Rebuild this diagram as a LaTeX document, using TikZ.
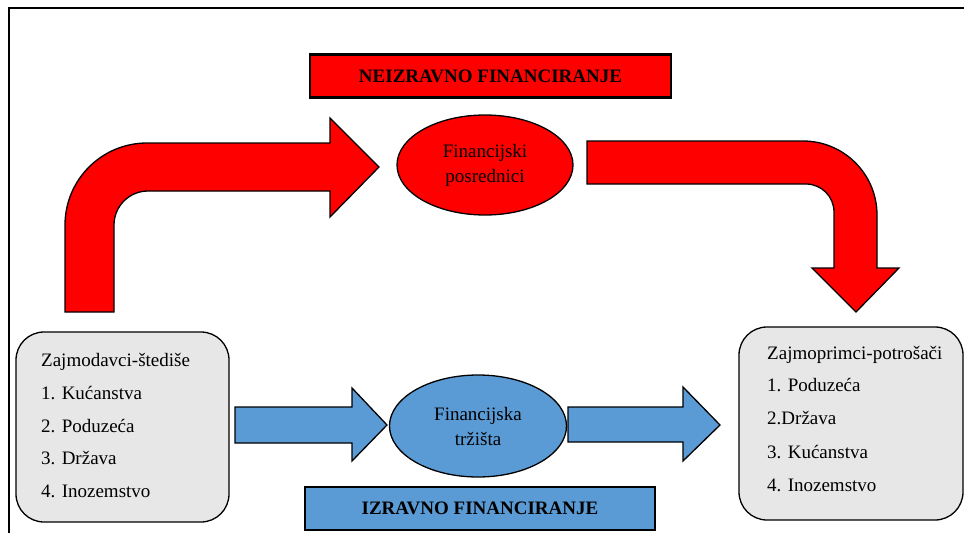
\documentclass[tikz,border=0pt]{standalone}
\usepackage{fontspec}
\setmainfont{Liberation Serif}
\newfontfamily\tnr{Liberation Serif}
\usetikzlibrary{shapes.geometric}
\definecolor{rd}{HTML}{FF0000}
\definecolor{bl}{HTML}{5B9BD5}
\definecolor{gr}{HTML}{E7E7E7}
\tikzset{
  bigarrowR/.style={draw=black, line width=1.3pt, fill=rd, line join=miter},
  bigarrowB/.style={draw=black, line width=1.3pt, fill=bl, line join=miter},
  titlebox/.style={draw=black, line width=2.4pt, minimum height=43pt, inner sep=0pt, font=\tnr\fontsize{19}{19}\selectfont\bfseries},
  ellnode/.style={ellipse, draw=black, line width=1.3pt, inner sep=0pt, align=center, font=\tnr\fontsize{19}{25}\selectfont},
  grbox/.style={draw=black, line width=1.3pt, fill=gr, rounded corners=28pt},
  itemtxt/.style={anchor=base west, inner sep=0pt, font=\tnr\fontsize{19}{19}\selectfont},
}
\begin{document}
\begin{tikzpicture}[x=1pt,y=-1pt]
\useasboundingbox (0,0) rectangle (964,533);
% frame
\draw[line width=2pt] (9,533) -- (9,8) -- (964,8);

% title boxes
\node[titlebox, fill=rd, minimum width=361pt] (neizr) at (490.5,76) {NEIZRAVNO FINANCIRANJE};
\node[titlebox, fill=bl, minimum width=350pt] (izr) at (480,508.5) {IZRAVNO FINANCIRANJE};

% ellipses
\node[ellnode, fill=rd, minimum width=176pt, minimum height=100pt] (posr) at (485,165) {Financijski\\posrednici};
\node[ellnode, fill=bl, minimum width=177pt, minimum height=102pt] (trz) at (478,426) {Financijska\\tržišta};

% grey boxes
\draw[grbox] (16,332) rectangle (229,522);
\node[itemtxt] (l0) at (41,366) {Zajmodavci-štediše};
\node[itemtxt] (l1) at (41,399) {1. Kućanstva};
\node[itemtxt] (l2) at (41,432) {2. Poduzeća};
\node[itemtxt] (l3) at (41,464) {3. Država};
\node[itemtxt] (l4) at (41,497) {4. Inozemstvo};

\draw[grbox] (739,327) rectangle (963,520);
\node[itemtxt] (r0) at (767,359) {Zajmoprimci-potrošači};
\node[itemtxt] (r1) at (767,391) {1. Poduzeća};
\node[itemtxt] (r2) at (767,424) {2.Država};
\node[itemtxt] (r3) at (767,458) {3. Kućanstva};
\node[itemtxt] (r4) at (767,491) {4. Inozemstvo};

% red bent arrows
\draw[bigarrowR] (65,312) [rounded corners=82pt] -- (65,143) [sharp corners] -- (330,143) -- (330,118) -- (379,167) -- (330,217) -- (330,191)
   [rounded corners=34pt] -- (114,191) [sharp corners] -- (114,312) -- cycle;
\draw[bigarrowR] (587,141) [rounded corners=74pt] -- (877,141) [sharp corners] -- (877,268) -- (899,268) -- (856,312) -- (812,268) -- (834,268)
   [rounded corners=28pt] -- (834,184) [sharp corners] -- (587,184) -- cycle;

% blue arrows
\draw[bigarrowB] (235,407) -- (352,407) -- (352,388) -- (387,425) -- (352,461) -- (352,443) -- (235,443) -- cycle;
\draw[bigarrowB] (568,407) -- (683,407) -- (683,387) -- (720,425) -- (683,461) -- (683,442) -- (568,442) -- cycle;
\end{tikzpicture}
\end{document}
